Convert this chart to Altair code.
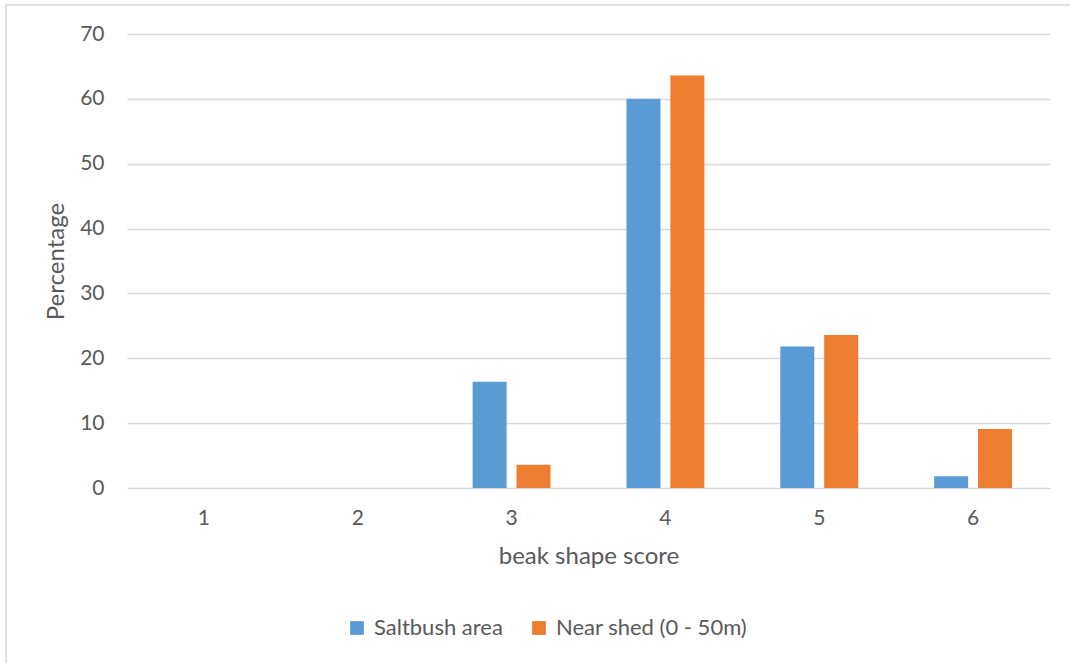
import altair as alt
import pandas as pd

# Beak shape score distribution for two sampling locations (percent of birds)
scores = ["1", "2", "3", "4", "5", "6"]
saltbush = [0, 0, 16.4, 60.0, 21.8, 1.8]
near_shed = [0, 0, 3.6, 63.6, 23.6, 9.1]
series_names = ["Saltbush area", "Near shed (0 - 50m)"]
series_colors = ["#5B9BD5", "#ED7D31"]

rows = []
for name, vals in zip(series_names, [saltbush, near_shed]):
    for s, v in zip(scores, vals):
        rows.append({"score": s, "series": name, "pct": v})
df = pd.DataFrame(rows)

FONT = "Lato"
TEXT = "#595959"
GRID = "#D9D9D9"

PAD_L, PAD_T, PAD_R, PAD_B = 127, 34, 20, 175
W, H = 1070 - PAD_L - PAD_R, 663 - PAD_T - PAD_B

bars = alt.Chart(df).mark_bar(size=34).encode(
    x=alt.X(
        "score:N",
        sort=scores,
        scale=alt.Scale(paddingInner=0.494, paddingOuter=0.247),
        axis=alt.Axis(
            title="beak shape score",
            labelAngle=0,
            labelFontSize=21,
            labelColor=TEXT,
            labelPadding=19,
            labelFont=FONT,
            titleFont=FONT,
            titleFontSize=24,
            titleFontWeight="normal",
            titleColor=TEXT,
            titlePadding=16,
            domain=False,
            ticks=False,
            grid=False,
        ),
    ),
    xOffset=alt.XOffset(
        "series:N",
        sort=series_names,
        scale=alt.Scale(paddingInner=0.227, paddingOuter=0),
    ),
    y=alt.Y(
        "pct:Q",
        scale=alt.Scale(domain=[0, 70], nice=False),
        axis=alt.Axis(
            title="Percentage",
            values=[0, 10, 20, 30, 40, 50, 60, 70],
            labelFontSize=21,
            labelColor=TEXT,
            labelPadding=23,
            labelFont=FONT,
            titleFont=FONT,
            titleFontSize=24,
            titleFontWeight="normal",
            titleColor=TEXT,
            titleX=-71,
            titleY=H / 2,
            titleAngle=-90,
            titleBaseline="middle",
            titleAlign="center",
            domain=False,
            ticks=False,
            gridColor=GRID,
            gridWidth=1.4,
        ),
    ),
    color=alt.Color(
        "series:N",
        sort=series_names,
        scale=alt.Scale(domain=series_names, range=series_colors),
        legend=alt.Legend(
            title=None,
            orient="none",
            direction="horizontal",
            legendX=350 - PAD_L - 4,
            legendY=617 - PAD_T,
            symbolType="square",
            symbolSize=190,
            symbolStrokeWidth=0,
            labelFont=FONT,
            labelFontSize=22,
            labelColor=TEXT,
            labelOffset=6,
            labelLimit=0,
            columnPadding=25,
        ),
    ),
)

# outer frame of the chart
frame = alt.Chart(pd.DataFrame({"k": [0]})).mark_rect(
    fillOpacity=0, stroke=GRID, strokeWidth=1.5
).encode(
    x=alt.value(6 - PAD_L),
    y=alt.value(5 - PAD_T),
    x2=alt.value(1070 - PAD_L + 20),
    y2=alt.value(663 - PAD_T + 20),
)

chart = alt.layer(frame, bars).properties(
    width=W,
    height=H,
    padding={"left": PAD_L, "top": PAD_T, "right": PAD_R, "bottom": PAD_B},
    autosize=alt.AutoSizeParams(type="none"),
    background="white",
).configure_view(stroke=None)

chart.save("out.html", embed_options={"renderer": "svg", "actions": False})
